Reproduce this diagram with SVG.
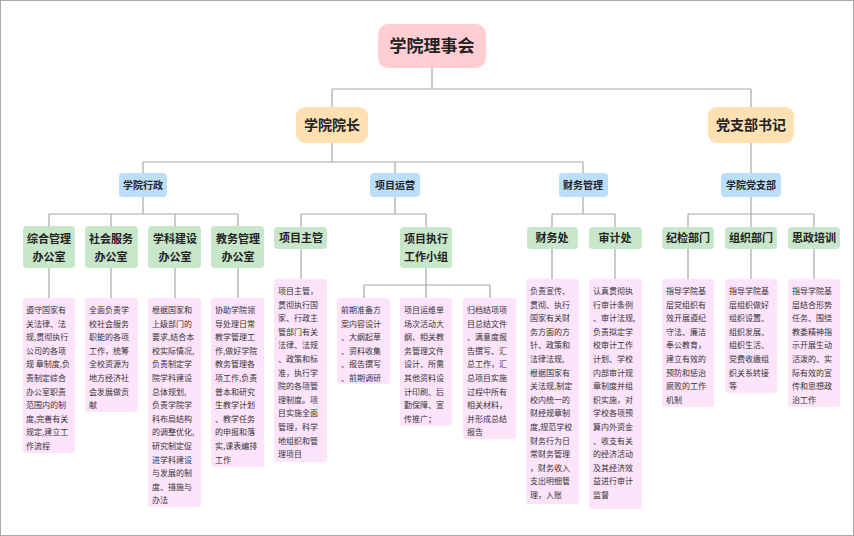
<svg xmlns="http://www.w3.org/2000/svg" width="854" height="536" viewBox="0 0 854 536">
<style>
text{font-family:"Noto Sans CJK SC","Noto Sans",sans-serif;fill:#222}
.t1{font-size:17px;font-weight:bold}
.t2{font-size:14px;font-weight:bold}
.t3{font-size:10px;font-weight:bold}
.t4{font-size:11px;font-weight:bold}
.d{font-size:8px;fill:#333}
.root{fill:#ffcdd2}
.l2{fill:#ffe0b2}
.l3{fill:#bbdefb}
.l4{fill:#c8e6c9}
.ds{fill:#fde4fb}
.c{fill:none;stroke:#a8a8a8;stroke-width:1.2}
</style>
<rect x="0.5" y="0.5" width="853" height="535" fill="#fff" stroke="#aaa"/>
<g id="connectors" class="c">
<path d="M432 68V89M332 89H751M332 89V107M751 89V107"/>
<path d="M332 143V162M143 162H583M143 162V173M395 162V173M583 162V173"/>
<path d="M751 143V173"/>
<path d="M143 197V214M49 214H238M49 214V226M111 214V226M175 214V226M238 214V226"/>
<path d="M395 197V214M301 214H426M301 214V227M426 214V227"/>
<path d="M583 197V214M552 214H615M552 214V227M615 214V227"/>
<path d="M751 197V214M688 214H814M688 214V227M751 214V227M814 214V227"/>
<path d="M49 268V298M111 268V298M175 268V298M238 268V298"/>
<path d="M301 249V279M426 268V285M364 285H490M364 285V298M426 285V298M490 285V298"/>
<path d="M552 249V279M615 249V279M688 249V279M751 249V279M814 249V279"/>
</g>
<g id="n-root"><rect class="root" x="378" y="24" width="108" height="44" rx="10"/><text class="t1" x="432" y="52" text-anchor="middle">学院理事会</text></g>
<g id="n-dean"><rect class="l2" x="296" y="107" width="72" height="36" rx="9"/><text class="t2" x="332" y="130" text-anchor="middle">学院院长</text></g>
<g id="n-party"><rect class="l2" x="708" y="107" width="86" height="36" rx="9"/><text class="t2" x="751" y="130" text-anchor="middle">党支部书记</text></g>
<g id="n-admin"><rect class="l3" x="119" y="173" width="48" height="24" rx="4"/><text class="t3" x="143" y="189" text-anchor="middle">学院行政</text></g>
<g id="n-proj"><rect class="l3" x="370" y="173" width="50" height="24" rx="4"/><text class="t3" x="395" y="189" text-anchor="middle">项目运营</text></g>
<g id="n-fin"><rect class="l3" x="559" y="173" width="49" height="24" rx="4"/><text class="t3" x="583" y="189" text-anchor="middle">财务管理</text></g>
<g id="n-branch"><rect class="l3" x="721" y="173" width="60" height="24" rx="4"/><text class="t3" x="751" y="189" text-anchor="middle">学院党支部</text></g>

<g id="n-zh"><rect class="l4" x="23" y="226" width="52" height="42" rx="4"/><text class="t4" x="49" y="243" text-anchor="middle">综合管理<tspan x="49" dy="18">办公室</tspan></text>
<rect class="ds" x="23" y="298" width="52" height="155" rx="3"/><text class="d" x="26" y="313">遵守国家有<tspan x="26" dy="13.6">关法律、法</tspan><tspan x="26" dy="13.6">规,贯彻执行</tspan><tspan x="26" dy="13.6">公司的各项</tspan><tspan x="26" dy="13.6">规 章制度,负</tspan><tspan x="26" dy="13.6">责制定综合</tspan><tspan x="26" dy="13.6">办公室职责</tspan><tspan x="26" dy="13.6">范围内的制</tspan><tspan x="26" dy="13.6">度,完善有关</tspan><tspan x="26" dy="13.6">规定,建立工</tspan><tspan x="26" dy="13.6">作流程</tspan></text></g>
<g id="n-sh"><rect class="l4" x="85" y="226" width="53" height="42" rx="4"/><text class="t4" x="111" y="243" text-anchor="middle">社会服务<tspan x="111" dy="18">办公室</tspan></text>
<rect class="ds" x="85" y="298" width="53" height="114" rx="3"/><text class="d" x="89" y="313">全面负责学<tspan x="89" dy="13.6">校社会服务</tspan><tspan x="89" dy="13.6">职能的各项</tspan><tspan x="89" dy="13.6">工作，统筹</tspan><tspan x="89" dy="13.6">全校资源为</tspan><tspan x="89" dy="13.6">地方经济社</tspan><tspan x="89" dy="13.6">会发展做贡</tspan><tspan x="89" dy="13.6">献</tspan></text></g>
<g id="n-xk"><rect class="l4" x="148" y="226" width="53" height="42" rx="4"/><text class="t4" x="175" y="243" text-anchor="middle">学科建设<tspan x="175" dy="18">办公室</tspan></text>
<rect class="ds" x="148" y="298" width="53" height="209" rx="3"/><text class="d" x="152" y="313">根据国家和<tspan x="152" dy="13.6">上级部门的</tspan><tspan x="152" dy="13.6">要求,结合本</tspan><tspan x="152" dy="13.6">校实际情况,</tspan><tspan x="152" dy="13.6">负责制定学</tspan><tspan x="152" dy="13.6">院学科建设</tspan><tspan x="152" dy="13.6">总体规划,</tspan><tspan x="152" dy="13.6">负责学院学</tspan><tspan x="152" dy="13.6">科布局结构</tspan><tspan x="152" dy="13.6">的调整优化,</tspan><tspan x="152" dy="13.6">研究制定促</tspan><tspan x="152" dy="13.6">进学科建设</tspan><tspan x="152" dy="13.6">与发展的制</tspan><tspan x="152" dy="13.6">度、措施与</tspan><tspan x="152" dy="13.6">办法</tspan></text></g>
<g id="n-jw"><rect class="l4" x="211" y="226" width="53" height="42" rx="4"/><text class="t4" x="238" y="243" text-anchor="middle">教务管理<tspan x="238" dy="18">办公室</tspan></text>
<rect class="ds" x="211" y="298" width="53" height="169" rx="3"/><text class="d" x="215" y="313">协助学院领<tspan x="215" dy="13.6">导处理日常</tspan><tspan x="215" dy="13.6">教学管理工</tspan><tspan x="215" dy="13.6">作,做好学院</tspan><tspan x="215" dy="13.6">教务管理各</tspan><tspan x="215" dy="13.6">项工作,负责</tspan><tspan x="215" dy="13.6">普本和研究</tspan><tspan x="215" dy="13.6">生教学计划</tspan><tspan x="215" dy="13.6">、教学任务</tspan><tspan x="215" dy="13.6">的申报和落</tspan><tspan x="215" dy="13.6">实,课表编排</tspan><tspan x="215" dy="13.6">工作</tspan></text></g>

<g id="n-pm"><rect class="l4" x="274" y="227" width="53" height="22" rx="4"/><text class="t4" x="301" y="242" text-anchor="middle">项目主管</text>
<rect class="ds" x="274" y="279" width="53" height="183" rx="3"/><text class="d" x="278" y="294">项目主管，<tspan x="278" dy="13.6">贯彻执行国</tspan><tspan x="278" dy="13.6">家、行政主</tspan><tspan x="278" dy="13.6">管部门有关</tspan><tspan x="278" dy="13.6">法律、法规</tspan><tspan x="278" dy="13.6">、政策和标</tspan><tspan x="278" dy="13.6">准，执行学</tspan><tspan x="278" dy="13.6">院的各项管</tspan><tspan x="278" dy="13.6">理制度。项</tspan><tspan x="278" dy="13.6">目实施全面</tspan><tspan x="278" dy="13.6">管理，科学</tspan><tspan x="278" dy="13.6">地组织和管</tspan><tspan x="278" dy="13.6">理项目</tspan></text></g>
<g id="n-pe"><rect class="l4" x="400" y="227" width="52" height="41" rx="4"/><text class="t4" x="426" y="243" text-anchor="middle">项目执行<tspan x="426" dy="18">工作小组</tspan></text></g>
<g id="n-pe1"><rect class="ds" x="337" y="298" width="53" height="86" rx="3"/><text class="d" x="341" y="313">前期准备方<tspan x="341" dy="13.6">案内容设计</tspan><tspan x="341" dy="13.6">、大纲起草</tspan><tspan x="341" dy="13.6">、资料收集</tspan><tspan x="341" dy="13.6">、报告撰写</tspan><tspan x="341" dy="13.6">、前期调研</tspan></text></g>
<g id="n-pe2"><rect class="ds" x="400" y="298" width="52" height="128" rx="3"/><text class="d" x="404" y="313">项目运维单<tspan x="404" dy="13.6">场次活动大</tspan><tspan x="404" dy="13.6">纲、相关教</tspan><tspan x="404" dy="13.6">务管理文件</tspan><tspan x="404" dy="13.6">设计、所需</tspan><tspan x="404" dy="13.6">其他资料设</tspan><tspan x="404" dy="13.6">计印刷、后</tspan><tspan x="404" dy="13.6">勤保障、宣</tspan><tspan x="404" dy="13.6">传推广；</tspan></text></g>
<g id="n-pe3"><rect class="ds" x="463" y="298" width="53" height="141" rx="3"/><text class="d" x="467" y="313">归档结项项<tspan x="467" dy="13.6">目总结文件</tspan><tspan x="467" dy="13.6">、满意度报</tspan><tspan x="467" dy="13.6">告撰写、汇</tspan><tspan x="467" dy="13.6">总工作，汇</tspan><tspan x="467" dy="13.6">总项目实施</tspan><tspan x="467" dy="13.6">过程中所有</tspan><tspan x="467" dy="13.6">相关材料，</tspan><tspan x="467" dy="13.6">并形成总结</tspan><tspan x="467" dy="13.6">报告</tspan></text></g>

<g id="n-cw"><rect class="l4" x="527" y="227" width="51" height="22" rx="4"/><text class="t4" x="552" y="242" text-anchor="middle">财务处</text>
<rect class="ds" x="526" y="279" width="53" height="225" rx="3"/><text class="d" x="530" y="294">负责宣传、<tspan x="530" dy="13.6">贯彻、执行</tspan><tspan x="530" dy="13.6">国家有关财</tspan><tspan x="530" dy="13.6">务方面的方</tspan><tspan x="530" dy="13.6">针、政策和</tspan><tspan x="530" dy="13.6">法律法规,</tspan><tspan x="530" dy="13.6">根据国家有</tspan><tspan x="530" dy="13.6">关法规,制定</tspan><tspan x="530" dy="13.6">校内统一的</tspan><tspan x="530" dy="13.6">财经规章制</tspan><tspan x="530" dy="13.6">度,规范学校</tspan><tspan x="530" dy="13.6">财务行为日</tspan><tspan x="530" dy="13.6">常财务管理</tspan><tspan x="530" dy="13.6">，财务收入</tspan><tspan x="530" dy="13.6">支出明细管</tspan><tspan x="530" dy="13.6">理，入账</tspan></text></g>
<g id="n-sj"><rect class="l4" x="589" y="227" width="53" height="22" rx="4"/><text class="t4" x="615" y="242" text-anchor="middle">审计处</text>
<rect class="ds" x="589" y="279" width="53" height="230" rx="3"/><text class="d" x="593" y="294">认真贯彻执<tspan x="593" dy="13.6">行审计条例</tspan><tspan x="593" dy="13.6">、审计法规,</tspan><tspan x="593" dy="13.6">负责拟定学</tspan><tspan x="593" dy="13.6">校审计工作</tspan><tspan x="593" dy="13.6">计划、学校</tspan><tspan x="593" dy="13.6">内部审计规</tspan><tspan x="593" dy="13.6">章制度并组</tspan><tspan x="593" dy="13.6">织实施，对</tspan><tspan x="593" dy="13.6">学校各项预</tspan><tspan x="593" dy="13.6">算内外资金</tspan><tspan x="593" dy="13.6">、收支有关</tspan><tspan x="593" dy="13.6">的经济活动</tspan><tspan x="593" dy="13.6">及其经济效</tspan><tspan x="593" dy="13.6">益进行审计</tspan><tspan x="593" dy="13.6">监督</tspan></text></g>

<g id="n-jj"><rect class="l4" x="662" y="227" width="52" height="22" rx="4"/><text class="t4" x="688" y="242" text-anchor="middle">纪检部门</text>
<rect class="ds" x="662" y="279" width="52" height="128" rx="3"/><text class="d" x="666" y="294">指导学院基<tspan x="666" dy="13.6">层党组织有</tspan><tspan x="666" dy="13.6">效开展遵纪</tspan><tspan x="666" dy="13.6">守法、廉洁</tspan><tspan x="666" dy="13.6">奉公教育，</tspan><tspan x="666" dy="13.6">建立有效的</tspan><tspan x="666" dy="13.6">预防和惩治</tspan><tspan x="666" dy="13.6">腐败的工作</tspan><tspan x="666" dy="13.6">机制</tspan></text></g>
<g id="n-zz"><rect class="l4" x="725" y="227" width="52" height="22" rx="4"/><text class="t4" x="751" y="242" text-anchor="middle">组织部门</text>
<rect class="ds" x="725" y="279" width="52" height="114" rx="3"/><text class="d" x="729" y="294">指导学院基<tspan x="729" dy="13.6">层组织做好</tspan><tspan x="729" dy="13.6">组织设置、</tspan><tspan x="729" dy="13.6">组织发展、</tspan><tspan x="729" dy="13.6">组织生活、</tspan><tspan x="729" dy="13.6">党费收缴组</tspan><tspan x="729" dy="13.6">织关系转接</tspan><tspan x="729" dy="13.6">等</tspan></text></g>
<g id="n-sz"><rect class="l4" x="788" y="227" width="52" height="22" rx="4"/><text class="t4" x="814" y="242" text-anchor="middle">思政培训</text>
<rect class="ds" x="788" y="279" width="52" height="128" rx="3"/><text class="d" x="792" y="294">指导学院基<tspan x="792" dy="13.6">层结合形势</tspan><tspan x="792" dy="13.6">任务、围绕</tspan><tspan x="792" dy="13.6">教委精神指</tspan><tspan x="792" dy="13.6">示开展生动</tspan><tspan x="792" dy="13.6">活泼的、实</tspan><tspan x="792" dy="13.6">际有效的宣</tspan><tspan x="792" dy="13.6">传和思想政</tspan><tspan x="792" dy="13.6">治工作</tspan></text></g>
</svg>
